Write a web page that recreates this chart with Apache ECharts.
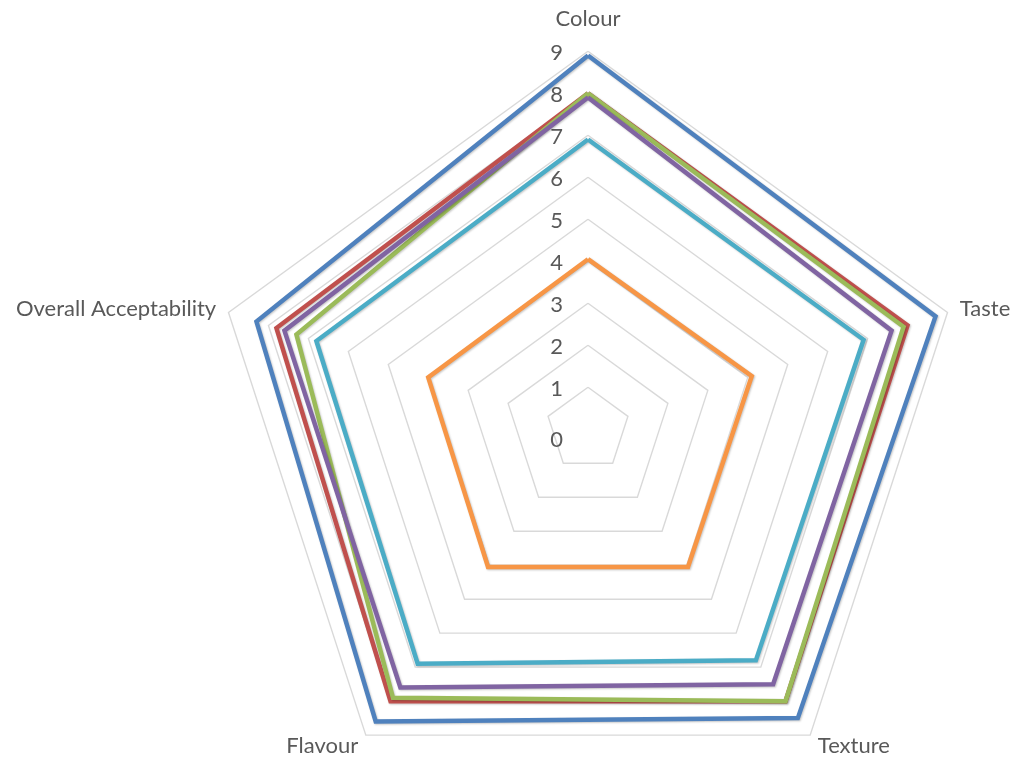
<!DOCTYPE html>
<html>
<head>
<meta charset="utf-8">
<script src="https://cdn.jsdelivr.net/npm/echarts@6/dist/echarts.min.js"></script>
<style>
  html, body { margin: 0; padding: 0; background: #fff; }
  #chart { width: 1020px; height: 765px; }
</style>
</head>
<body>
<div id="chart"></div>
<script>
// Sensory attributes, listed clockwise from the top
const categories = ['Colour', 'Taste', 'Texture', 'Flavour', 'Overall Acceptability'];
const scaleMax = 9;
const tickLabels = ['0', '1', '2', '3', '4', '5', '6', '7', '8', '9'];

// Mean sensory scores per sample (same order as categories)
const sampleA = [8.9, 8.7, 8.5, 8.6, 8.3];
const sampleB = [8.0, 8.0, 8.0, 8.0, 7.8];
const sampleC = [8.0, 7.9, 8.0, 7.9, 7.3];
const sampleD = [7.9, 7.6, 7.5, 7.6, 7.6];
const sampleE = [6.9, 6.9, 6.8, 6.9, 6.8];
const sampleF = [4.05, 4.1, 4.05, 4.05, 4.0];

const sampleNames = ['Sample A', 'Sample B', 'Sample C', 'Sample D', 'Sample E', 'Sample F'];
const samples = [sampleA, sampleB, sampleC, sampleD, sampleE, sampleF];
const colors = ['#4F81BD', '#C0504D', '#9BBB59', '#8064A2', '#4BACC6', '#F79646'];

// ECharts lays indicators out counter-clockwise, so reorder to keep the
// attributes running clockwise from the top.
const order = [0, 4, 3, 2, 1];
const reorder = arr => order.map(i => arr[i]);

const textColor = '#595959';
const fontFamily = 'Lato, "Liberation Sans", sans-serif';
const fontSize = 22;

const indicators = reorder(categories).map((name, i) => {
  const ind = { name: name, min: 0, max: scaleMax };
  if (i === 0) {
    // Scale values are printed only beside the top axis
    ind.axisLabel = {
      show: true,
      color: textColor,
      fontSize: fontSize,
      fontFamily: fontFamily,
      margin: 25,
      formatter: v => {
        const idx = Math.round(v);
        const txt = tickLabels[idx] ?? String(v);
        return idx === 0 ? '{zero|' + txt + '}' : '{tick|' + txt + '}';
      },
      rich: {
        tick: { color: textColor, fontSize: fontSize, fontFamily: fontFamily, padding: [4, 0, 0, 0] },
        zero: { color: textColor, fontSize: fontSize, fontFamily: fontFamily, padding: [22, 0, 0, 0] }
      }
    };
  }
  return ind;
});

const chart = echarts.init(document.getElementById('chart'), null, { renderer: 'canvas' });
chart.setOption({
  backgroundColor: '#ffffff',
  animation: false,
  radar: {
    center: [588, 429.3],
    radius: 378,
    startAngle: 90,
    shape: 'polygon',
    splitNumber: 9,
    indicator: indicators,
    axisName: {
      color: textColor,
      fontSize: fontSize,
      fontFamily: fontFamily,
      formatter: name => name === 'Colour' ? '{top|' + name + '}' : name,
      rich: {
        top: { color: textColor, fontSize: fontSize, fontFamily: fontFamily, padding: [0, 0, 8, 0] }
      }
    },
    nameGap: 13,
    axisLine: { show: false },
    axisTick: { show: false },
    axisLabel: { show: false },
    splitArea: { show: false },
    splitLine: { lineStyle: { color: '#D9D9D9', width: 1.4 } }
  },
  series: [{
    type: 'radar',
    symbol: 'none',
    data: samples.map((vals, i) => ({
      name: sampleNames[i],
      value: reorder(vals),
      lineStyle: {
        color: colors[i],
        width: 4.5,
        join: 'miter',
        shadowColor: 'rgba(0,0,0,0.22)',
        shadowBlur: 2,
        shadowOffsetX: 1,
        shadowOffsetY: 1
      },
      itemStyle: { color: colors[i] }
    }))
  }]
});
</script>
</body>
</html>
